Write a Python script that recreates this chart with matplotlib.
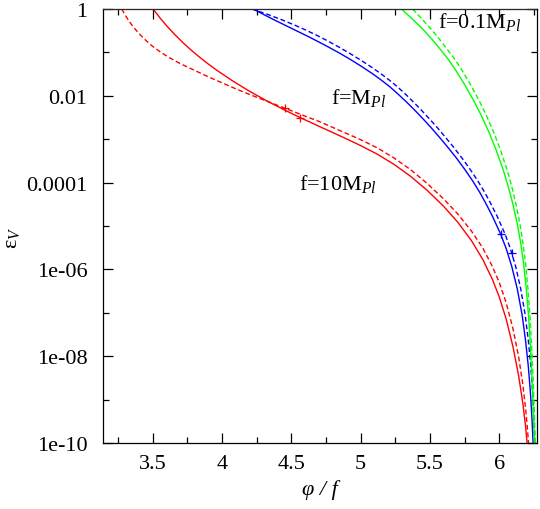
"""epsilon_V versus phi/f for three decay constants (solid / dashed pairs)."""

import matplotlib
matplotlib.use("Agg")
import matplotlib.pyplot as plt
import numpy as np

plt.rcParams["font.family"] = ["Liberation Serif", "DejaVu Serif"]
plt.rcParams["mathtext.fontset"] = "custom"
plt.rcParams["mathtext.rm"] = "Liberation Serif"
plt.rcParams["mathtext.it"] = "Liberation Serif:italic"

# ── Data (y given as log10 of epsilon_V) ─────────────────────────────────────

red_solid_x = [3.504, 3.55, 3.60, 3.66, 3.72, 3.78, 3.84, 3.90, 3.96, 4.08, 4.20,
               4.32, 4.45, 4.566, 4.70, 4.85, 5.00, 5.12, 5.24, 5.36, 5.48, 5.60,
               5.70, 5.80, 5.88, 5.95, 6.00, 6.05, 6.10, 6.14, 6.17, 6.19, 6.205, 6.215]
red_solid_lg = [0.0, -0.193, -0.383, -0.59, -0.779, -0.953, -1.114, -1.264, -1.405, -1.663,
                -1.897, -2.111, -2.325, -2.505, -2.703, -2.921, -3.146, -3.344, -3.578,
                -3.854, -4.178, -4.55, -4.91, -5.34, -5.764, -6.226, -6.636, -7.146,
                -7.796, -8.456, -9.086, -9.626, -10.136, -10.536]

red_dash_x = [3.277, 3.30, 3.33, 3.36, 3.40, 3.45, 3.50, 3.56, 3.62, 3.70, 3.80, 3.90,
              4.00, 4.10, 4.20, 4.32, 4.458, 4.56, 4.70, 4.85, 5.00, 5.12, 5.24, 5.36,
              5.48, 5.60, 5.70, 5.80, 5.88, 5.95, 6.00, 6.05, 6.10, 6.14, 6.17, 6.19,
              6.205, 6.215, 6.222]
red_dash_lg = [0.0, -0.13, -0.28, -0.41, -0.56, -0.72, -0.86, -1.00, -1.12, -1.26, -1.41,
               -1.56, -1.70, -1.84, -1.97, -2.12, -2.29, -2.42, -2.59, -2.80, -3.01, -3.20,
               -3.43, -3.70, -4.02, -4.38, -4.72, -5.12, -5.50, -5.93, -6.30, -6.77, -7.38,
               -8.02, -8.65, -9.21, -9.74, -10.16, -10.5]

blue_solid_x = [4.225, 4.30, 4.37, 4.45, 4.53, 4.61, 4.69, 4.77, 4.85, 4.93, 5.01, 5.09,
                5.15, 5.21, 5.27, 5.33, 5.39, 5.45, 5.51, 5.57, 5.63, 5.69, 5.75, 5.81,
                5.86, 5.90, 5.95, 6.009, 6.05, 6.09, 6.13, 6.165, 6.19, 6.21, 6.225,
                6.236, 6.245, 6.252]
blue_solid_lg = [0.0, -0.125, -0.24, -0.365, -0.49, -0.615, -0.745, -0.88, -1.02, -1.17,
                 -1.33, -1.50, -1.64, -1.79, -1.96, -2.14, -2.33, -2.53, -2.74, -2.96,
                 -3.19, -3.43, -3.69, -3.97, -4.23, -4.46, -4.77, -5.18, -5.52, -5.93,
                 -6.45, -7.05, -7.65, -8.25, -8.85, -9.45, -10.05, -10.6]

blue_dash_x = [4.215, 4.33, 4.425, 4.52, 4.608, 4.69, 4.768, 4.845, 4.92, 4.997, 5.074,
               5.15, 5.208, 5.265, 5.323, 5.38, 5.438, 5.496, 5.555, 5.613, 5.672, 5.73,
               5.789, 5.847, 5.896, 5.935, 5.984, 6.041, 6.08, 6.118, 6.155, 6.187, 6.21,
               6.228, 6.241, 6.25, 6.257, 6.263]
blue_dash_lg = blue_solid_lg

green_solid_x = [5.294, 5.37, 5.45, 5.51, 5.57, 5.63, 5.69, 5.75, 5.81, 5.87, 5.93, 5.98,
                 6.03, 6.07, 6.10, 6.13, 6.155, 6.175, 6.195, 6.212, 6.225, 6.237, 6.247,
                 6.255, 6.26]
green_solid_lg = [0.0, -0.22, -0.47, -0.68, -0.91, -1.15, -1.43, -1.74, -2.08, -2.45, -2.87,
                  -3.27, -3.72, -4.15, -4.52, -4.95, -5.40, -5.85, -6.45, -7.10, -7.80,
                  -8.60, -9.40, -10.1, -10.6]

green_dash_x = [5.375, 5.44, 5.51, 5.565, 5.62, 5.677, 5.735, 5.792, 5.85, 5.907, 5.964,
                6.011, 6.058, 6.095, 6.122, 6.149, 6.171, 6.189, 6.207, 6.222, 6.234,
                6.245, 6.254, 6.261, 6.265]
green_dash_lg = green_solid_lg

# "+" marks on the curves
red_mark_x = [4.458, 4.566]
red_mark_lg = [-2.29, -2.505]
blue_mark_x = [6.009, 6.09]
blue_mark_lg = [-5.18, -5.63]

# curve labels: (text, x, log10 y of baseline)
labels = [
    ("f=0.1M$_{Pl}$", 5.558, -0.415),
    ("f=M$_{Pl}$", 4.79, -2.166),
    ("f=10M$_{Pl}$", 4.554, -4.147),
]

x_major = [3.5, 4.0, 4.5, 5.0, 5.5, 6.0]
x_major_labels = ["3.5", "4", "4.5", "5", "5.5", "6"]
x_minor = [3.25, 3.75, 4.25, 4.75, 5.25, 5.75, 6.25]
y_major = [1e-10, 1e-8, 1e-6, 1e-4, 1e-2, 1]
y_major_labels = ["1e-10", "1e-08", "1e-06", "0.0001", "0.01", "1"]
y_minor = [1e-9, 1e-7, 1e-5, 1e-3, 1e-1]

RED, BLUE, GREEN = "#ff0000", "#0000ff", "#00ff00"
DASH = (0, (3.5, 2.0))

# ── Plot ──────────────────────────────────────────────────────────────────────

fig = plt.figure(figsize=(5.4, 5.1), dpi=100)
ax = fig.add_axes([102.7 / 540, 1 - 444 / 510, 434 / 540, 434 / 510])


def pw(lg):
    return 10.0 ** np.asarray(lg)


ax.plot(red_solid_x, pw(red_solid_lg), color=RED, lw=1.0)
ax.plot(red_dash_x, pw(red_dash_lg), color=RED, lw=1.0, ls=DASH)
ax.plot(blue_solid_x, pw(blue_solid_lg), color=BLUE, lw=1.0)
ax.plot(blue_dash_x, pw(blue_dash_lg), color=BLUE, lw=1.0, ls=DASH)
ax.plot(green_solid_x, pw(green_solid_lg), color=GREEN, lw=1.0)
ax.plot(green_dash_x, pw(green_dash_lg), color=GREEN, lw=1.0, ls=DASH)

ax.plot(red_mark_x, pw(red_mark_lg), ls="none", marker="+", ms=6, mew=0.9, color=RED)
ax.plot(blue_mark_x, pw(blue_mark_lg), ls="none", marker="+", ms=6, mew=0.9, color=BLUE)

ax.axhline(1.0, color="#333333", lw=1.2, zorder=4)

for txt, xv, lg in labels:
    ax.text(xv, 10.0 ** lg, txt, fontsize=16, ha="left", va="baseline")

ax.set_yscale("log")
ax.set_xlim(3.14, 6.27)
ax.set_ylim(1e-10, 1)

ax.set_xticks(x_major, labels=x_major_labels)
ax.set_xticks(x_minor, minor=True)
ax.set_yticks(y_major, labels=y_major_labels)
ax.set_yticks(y_minor, minor=True)
ax.yaxis.set_minor_formatter(matplotlib.ticker.NullFormatter())

ax.tick_params(which="both", direction="in", top=True, right=True, width=0.9)
ax.tick_params(which="major", length=7, labelsize=16)
ax.tick_params(which="minor", length=4)
ax.tick_params(axis="x", which="major", pad=8)
ax.tick_params(axis="y", which="major", pad=11)
for sp in ax.spines.values():
    sp.set_linewidth(0.9)

fig.text(320 / 540, 1 - 490 / 510, "φ / f", fontsize=16, style="italic",
         ha="center", va="center")
fig.text(12 / 540, 1 - 238 / 510, "ε$_{V}$", fontsize=16, rotation=90,
         ha="center", va="center")

fig.savefig("out.png", dpi=100)
